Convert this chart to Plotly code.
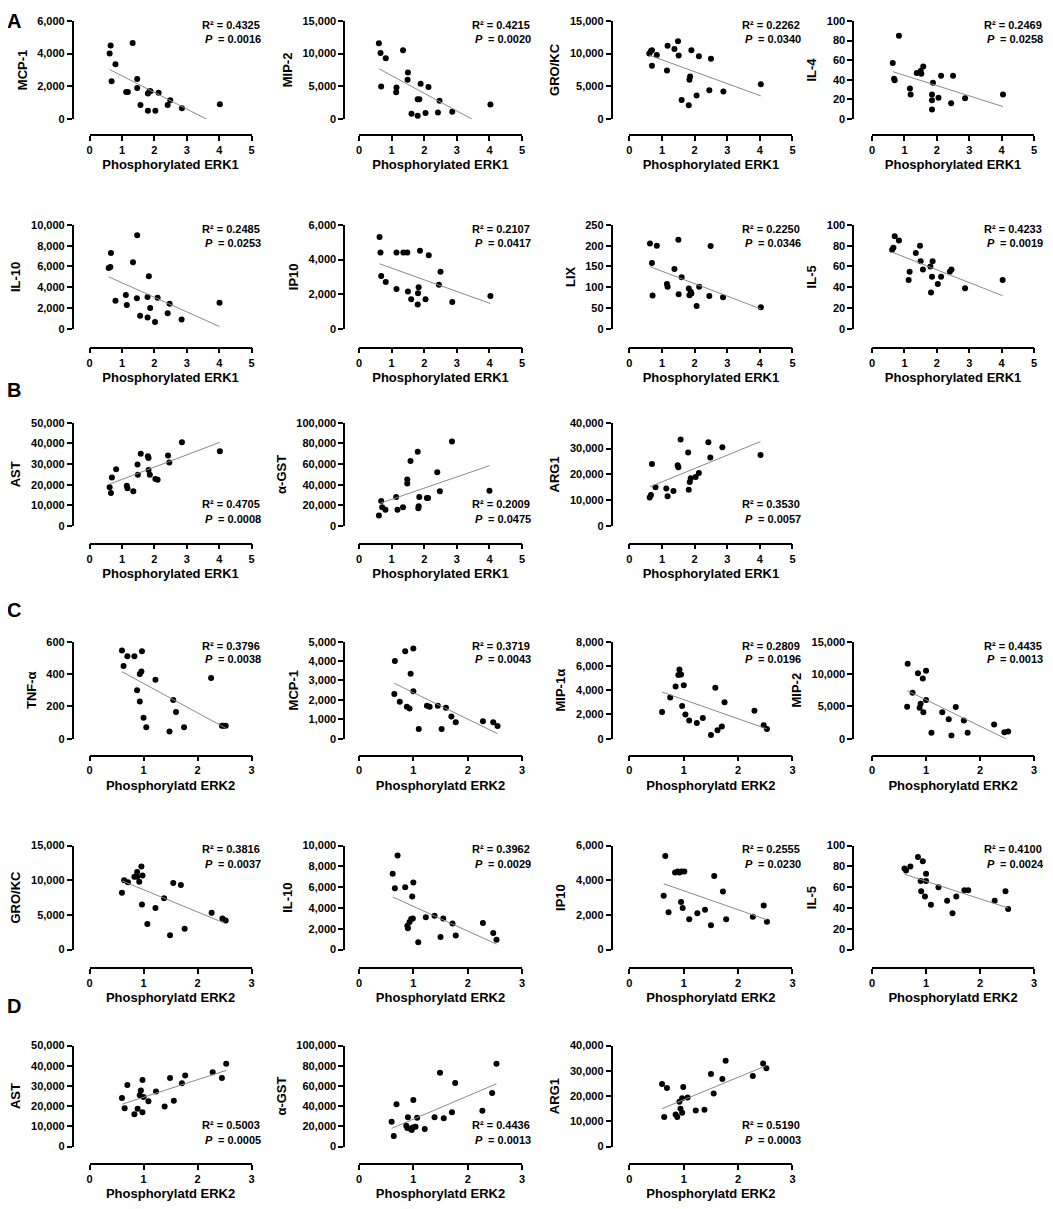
import numpy as np
import plotly.graph_objects as go

W, H = 1053, 1209
OFF = 8  # page body margin, the figure is shrunk and shifted to fit the window
FW, FH = W - OFF, H - OFF
FONT = "Liberation Sans, Arial, sans-serif"

# ---- A: phosphorylated ERK1 vs cytokines ----
mcp1_erk1_x = [0.62, 0.65, 0.68, 0.80, 1.13, 1.18, 1.33, 1.47, 1.47, 1.57, 1.80, 1.85, 1.88, 1.80, 2.03, 2.13, 2.41, 2.49, 2.85, 4.02]
mcp1_erk1_y = [4000, 4500, 2300, 3350, 1650, 1650, 4650, 2450, 1900, 850, 1550, 1700, 1700, 500, 500, 1600, 850, 1150, 650, 900]

mip2_erk1_x = [0.61, 0.66, 0.82, 0.68, 1.15, 1.14, 1.35, 1.50, 1.49, 1.61, 1.80, 1.80, 1.85, 1.89, 2.04, 2.13, 2.42, 2.47, 2.86, 4.03]
mip2_erk1_y = [11600, 10100, 9300, 4950, 4800, 4100, 10500, 7100, 6000, 800, 500, 3000, 3000, 5400, 900, 4900, 1000, 2800, 1100, 2200]

grokc_erk1_x = [0.61, 0.66, 0.69, 0.69, 0.84, 1.15, 1.17, 1.38, 1.49, 1.51, 1.60, 1.82, 1.84, 1.86, 1.90, 2.06, 2.13, 2.45, 2.50, 2.88, 4.03]
grokc_erk1_y = [10000, 10400, 10500, 8150, 9800, 7400, 11200, 10700, 11900, 9700, 2900, 2100, 6000, 6500, 10500, 3600, 9600, 4400, 9200, 4200, 5300]

il4_erk1_x = [0.64, 0.68, 0.70, 0.83, 1.17, 1.19, 1.38, 1.50, 1.52, 1.58, 1.85, 1.85, 1.85, 1.88, 2.05, 2.13, 2.44, 2.50, 2.87, 4.04]
il4_erk1_y = [57, 41, 39.5, 85, 31, 25, 47, 49, 46, 53.5, 25, 19, 9.6, 37, 21.5, 44, 16, 44, 21, 25]

il10_erk1_x = [0.59, 0.64, 0.66, 0.80, 1.12, 1.15, 1.34, 1.47, 1.46, 1.56, 1.79, 1.83, 1.79, 1.87, 2.02, 2.10, 2.41, 2.47, 2.84, 4.01]
il10_erk1_y = [5860, 5950, 7300, 2700, 3250, 2300, 6400, 9000, 2950, 1250, 3050, 5050, 1100, 2000, 650, 3000, 1500, 2400, 900, 2500]

ip10_erk1_x = [0.63, 0.66, 0.68, 0.82, 1.15, 1.15, 1.36, 1.48, 1.50, 1.60, 1.80, 1.83, 1.81, 1.87, 2.04, 2.14, 2.45, 2.50, 2.86, 4.03]
ip10_erk1_y = [5300, 4400, 3050, 2700, 4400, 2300, 4400, 4400, 2150, 1700, 1400, 2400, 2050, 4500, 1700, 4250, 2550, 3300, 1550, 1900]

lix_erk1_x = [0.63, 0.69, 0.71, 0.84, 1.15, 1.17, 1.38, 1.50, 1.51, 1.60, 1.82, 1.84, 1.88, 1.90, 2.06, 2.14, 2.45, 2.49, 2.87, 4.03]
lix_erk1_y = [205, 158, 80, 200, 108, 101, 144, 214, 83, 124, 97, 81, 89, 85, 55, 101, 79, 199, 76, 52]

il5_erk1_x = [0.62, 0.66, 0.70, 0.83, 1.13, 1.16, 1.35, 1.48, 1.50, 1.57, 1.80, 1.82, 1.85, 1.87, 2.03, 2.13, 2.40, 2.45, 2.87, 4.03]
il5_erk1_y = [76, 78, 89, 85, 47, 55, 73, 80, 65, 57, 60, 35, 50, 65, 43, 50, 55, 57, 39, 47]

# ---- B: phosphorylated ERK1 vs liver markers ----
ast_erk1_x = [0.62, 0.66, 0.69, 0.82, 1.15, 1.17, 1.35, 1.48, 1.49, 1.58, 1.80, 1.82, 1.82, 1.86, 2.03, 2.10, 2.42, 2.46, 2.85, 4.02]
ast_erk1_y = [18700, 16000, 23500, 27500, 19500, 18300, 16800, 29800, 24800, 35000, 33800, 33000, 27100, 24800, 22700, 22400, 34100, 30800, 40600, 36200]

agst_erk1_x = [0.61, 0.68, 0.71, 0.81, 1.14, 1.18, 1.35, 1.48, 1.48, 1.58, 1.80, 1.85, 1.82, 1.83, 2.08, 2.12, 2.40, 2.48, 2.85, 4.00]
agst_erk1_y = [10000, 24000, 18000, 15500, 28000, 15500, 18000, 45000, 41000, 63000, 72000, 28000, 17000, 19000, 27000, 27000, 52000, 33600, 82000, 34000]

arg1_erk1_x = [0.62, 0.66, 0.69, 0.80, 1.13, 1.17, 1.35, 1.48, 1.50, 1.57, 1.80, 1.82, 1.85, 1.88, 2.03, 2.13, 2.42, 2.48, 2.85, 4.02]
arg1_erk1_y = [11000, 12000, 24000, 15000, 14500, 11500, 13500, 23500, 22800, 33500, 28500, 14000, 17000, 18500, 19000, 20500, 32500, 26500, 30500, 27500]

# ---- C: phosphorylated ERK2 vs cytokines ----
tnfa_erk2_x = [0.60, 0.63, 0.70, 0.83, 0.97, 0.93, 0.96, 1.22, 0.88, 0.93, 1.00, 1.05, 1.48, 1.75, 1.55, 1.60, 2.25, 2.45, 2.48, 2.52]
tnfa_erk2_y = [545, 450, 510, 510, 540, 400, 415, 365, 300, 230, 130, 70, 45, 70, 240, 165, 375, 80, 80, 80]

mcp1_erk2_x = [0.66, 0.85, 1.00, 0.95, 1.00, 0.65, 0.75, 0.88, 0.93, 1.10, 1.30, 1.45, 1.60, 1.52, 1.78, 1.70, 2.28, 2.47, 2.55, 1.25]
mcp1_erk2_y = [4000, 4500, 4650, 3350, 2450, 2300, 1900, 1650, 1550, 500, 1650, 1700, 1600, 500, 850, 1150, 900, 850, 650, 1700]

mip1a_erk2_x = [0.60, 0.75, 0.85, 0.90, 0.92, 0.95, 1.00, 0.97, 1.03, 1.10, 1.24, 1.35, 1.50, 1.58, 1.62, 1.75, 1.70, 2.30, 2.47, 2.53]
mip1a_erk2_y = [2200, 3400, 4300, 5250, 5700, 5300, 4400, 2700, 2000, 1500, 1300, 1700, 300, 4200, 700, 3000, 1000, 2300, 1100, 800]

mip2_erk2_x = [0.66, 0.85, 1.00, 0.94, 0.65, 0.75, 0.88, 0.90, 1.00, 0.95, 1.10, 1.30, 1.42, 1.47, 1.55, 1.70, 1.77, 2.26, 2.45, 2.52]
mip2_erk2_y = [11600, 10100, 10500, 9300, 4950, 7100, 4800, 5400, 6000, 4100, 900, 4100, 3000, 500, 4900, 2800, 900, 2200, 1000, 1100]

grokc_erk2_x = [0.60, 0.64, 0.71, 0.83, 0.88, 0.88, 0.92, 0.96, 0.98, 0.97, 1.07, 1.22, 1.38, 1.49, 1.55, 1.69, 1.76, 2.26, 2.46, 2.52]
grokc_erk2_y = [8200, 10000, 9700, 10500, 11200, 10500, 9800, 12000, 10700, 6500, 3700, 6000, 7400, 2050, 9600, 9300, 3000, 5300, 4500, 4200]

il10_erk2_x = [0.62, 0.71, 0.66, 0.85, 1.00, 0.98, 0.89, 0.90, 0.93, 0.96, 0.99, 1.09, 1.23, 1.39, 1.50, 1.55, 1.72, 1.78, 2.28, 2.47, 2.53]
il10_erk2_y = [7300, 9050, 5900, 6000, 6450, 5100, 2300, 2050, 2650, 2950, 3000, 700, 3100, 3250, 1200, 3000, 2500, 1350, 2550, 1600, 950]

ip10_erk2_x = [0.63, 0.66, 0.72, 0.84, 0.89, 0.92, 0.96, 1.01, 0.95, 0.98, 1.10, 1.25, 1.39, 1.50, 1.56, 1.72, 1.78, 2.27, 2.47, 2.53]
ip10_erk2_y = [3100, 5400, 2150, 4450, 4500, 4450, 4500, 4500, 2750, 2400, 1750, 2100, 2300, 1400, 4250, 3350, 1750, 1900, 2550, 1600]

il5_erk2_x = [0.60, 0.63, 0.71, 0.85, 0.94, 1.00, 0.90, 1.00, 0.91, 0.98, 1.09, 1.23, 1.39, 1.49, 1.56, 1.71, 1.78, 2.27, 2.47, 2.52]
il5_erk2_y = [78, 76, 80, 89, 85, 73, 66, 66, 56, 51, 43, 60, 47, 35, 51, 57, 57, 47, 56, 39]

# ---- D: phosphorylated ERK2 vs liver markers ----
ast_erk2_x = [0.60, 0.65, 0.70, 0.83, 0.89, 0.93, 0.95, 0.98, 1.00, 0.98, 1.09, 1.23, 1.39, 1.49, 1.56, 1.71, 1.77, 2.28, 2.45, 2.53]
ast_erk2_y = [24000, 19000, 30500, 16000, 18700, 25400, 27800, 33000, 24600, 17000, 22500, 27300, 19800, 34000, 22700, 31400, 35200, 36800, 34000, 41000]

agst_erk2_x = [0.60, 0.64, 0.69, 0.87, 0.90, 0.89, 0.95, 0.99, 0.97, 1.00, 1.04, 1.07, 1.21, 1.39, 1.49, 1.56, 1.71, 1.77, 2.27, 2.45, 2.53]
agst_erk2_y = [24500, 10500, 42000, 20600, 29000, 18400, 17500, 19000, 16500, 46000, 19700, 28600, 17500, 29000, 73000, 28000, 34000, 63000, 35500, 53000, 82000]

arg1_erk2_x = [0.60, 0.64, 0.69, 0.85, 0.88, 0.92, 0.94, 0.97, 0.97, 0.99, 1.07, 1.22, 1.38, 1.50, 1.55, 1.71, 1.77, 2.27, 2.46, 2.52]
arg1_erk2_y = [24800, 11700, 23200, 12700, 11700, 17800, 15000, 13400, 19100, 23600, 19400, 14300, 14600, 28700, 21000, 26800, 34000, 28000, 32900, 31000]

# row: (y of top tick, y of zero, y of x-axis line, ERK, stats at top?) in page pixels
rows = {
    "A1": (15, 114, 130, 1, True),
    "A2": (221, 326, 345, 1, True),
    "B": (421, 525, 543, 1, False),
    "C1": (642, 740, 757, 2, True),
    "C2": (848, 953, 972, 2, True),
    "D": (1050, 1152, 1170, 2, False),
}
col_yaxis = [70, 343, 612, 855]
col_xdom = [(87, 250), (358, 522), (630, 794), (874, 1037)]


def px(v):
    return (v - OFF) / FW


def py(v):
    return 1 - (v - OFF) / FH


panels = [
    ("A1", 0, "MCP-1", mcp1_erk1_x, mcp1_erk1_y, 6000, 2000, "0.4325", "0.0016"),
    ("A1", 1, "MIP-2", mip2_erk1_x, mip2_erk1_y, 15000, 5000, "0.4215", "0.0020"),
    ("A1", 2, "GRO/KC", grokc_erk1_x, grokc_erk1_y, 15000, 5000, "0.2262", "0.0340"),
    ("A1", 3, "IL-4", il4_erk1_x, il4_erk1_y, 100, 20, "0.2469", "0.0258"),
    ("A2", 0, "IL-10", il10_erk1_x, il10_erk1_y, 10000, 2000, "0.2485", "0.0253"),
    ("A2", 1, "IP10", ip10_erk1_x, ip10_erk1_y, 6000, 2000, "0.2107", "0.0417"),
    ("A2", 2, "LIX", lix_erk1_x, lix_erk1_y, 250, 50, "0.2250", "0.0346"),
    ("A2", 3, "IL-5", il5_erk1_x, il5_erk1_y, 100, 20, "0.4233", "0.0019"),
    ("B", 0, "AST", ast_erk1_x, ast_erk1_y, 50000, 10000, "0.4705", "0.0008"),
    ("B", 1, "α-GST", agst_erk1_x, agst_erk1_y, 100000, 20000, "0.2009", "0.0475"),
    ("B", 2, "ARG1", arg1_erk1_x, arg1_erk1_y, 40000, 10000, "0.3530", "0.0057"),
    ("C1", 0, "TNF-α", tnfa_erk2_x, tnfa_erk2_y, 600, 200, "0.3796", "0.0038"),
    ("C1", 1, "MCP-1", mcp1_erk2_x, mcp1_erk2_y, 5000, 1000, "0.3719", "0.0043"),
    ("C1", 2, "MIP-1α", mip1a_erk2_x, mip1a_erk2_y, 8000, 2000, "0.2809", "0.0196"),
    ("C1", 3, "MIP-2", mip2_erk2_x, mip2_erk2_y, 15000, 5000, "0.4435", "0.0013"),
    ("C2", 0, "GRO/KC", grokc_erk2_x, grokc_erk2_y, 15000, 5000, "0.3816", "0.0037"),
    ("C2", 1, "IL-10", il10_erk2_x, il10_erk2_y, 10000, 2000, "0.3962", "0.0029"),
    ("C2", 2, "IP10", ip10_erk2_x, ip10_erk2_y, 6000, 2000, "0.2555", "0.0230"),
    ("C2", 3, "IL-5", il5_erk2_x, il5_erk2_y, 100, 20, "0.4100", "0.0024"),
    ("D", 0, "AST", ast_erk2_x, ast_erk2_y, 50000, 10000, "0.5003", "0.0005"),
    ("D", 1, "α-GST", agst_erk2_x, agst_erk2_y, 100000, 20000, "0.4436", "0.0013"),
    ("D", 2, "ARG1", arg1_erk2_x, arg1_erk2_y, 40000, 10000, "0.5190", "0.0003"),
]

xtitles = {1: "Phosphorylated ERK1", 2: "Phosphorylatd ERK2"}

tickfont = dict(family=FONT, size=11, color="black", weight="bold")
titlefont = dict(family=FONT, size=13, color="black", weight="bold")
statfont = dict(family=FONT, size=11, color="black", weight="bold")
axis_style = dict(showline=True, linecolor="black", linewidth=1.5, ticks="outside",
                  ticklen=5, tickwidth=1.5, tickcolor="black", showgrid=False,
                  zeroline=False, tickfont=tickfont, fixedrange=True)

fig = go.Figure()
layout = {}
annotations = []

for i, (row, col, ylab, xs, ys, ymax, dtick, r2, p) in enumerate(panels, start=1):
    ytop, y0, xline, erk, stats_top = rows[row]
    sfx = "" if i == 1 else str(i)
    xa, ya = "x" + sfx, "y" + sfx

    fig.add_trace(go.Scatter(x=xs, y=ys, mode="markers", xaxis=xa, yaxis=ya,
                             marker=dict(color="black", size=6), showlegend=False))
    slope, icpt = np.polyfit(xs, ys, 1)
    lx = [min(xs), max(xs)]
    fig.add_trace(go.Scatter(x=lx, y=[slope * v + icpt for v in lx], mode="lines",
                             xaxis=xa, yaxis=ya, line=dict(color="#8a8a8a", width=1),
                             showlegend=False))

    xd = col_xdom[col]
    layout["xaxis" + sfx] = dict(axis_style, domain=[px(xd[0]), px(xd[1])], anchor="free",
                                 position=py(xline), range=[0, 5 if erk == 1 else 3], dtick=1,
                                 title=dict(text=xtitles[erk], font=titlefont, standoff=4))
    layout["yaxis" + sfx] = dict(axis_style, domain=[py(y0), py(ytop)], anchor="free",
                                 position=px(col_yaxis[col]), range=[0, ymax], dtick=dtick,
                                 tickformat=",", title=dict(text=ylab, font=titlefont, standoff=6))

    # stats: "R² = ..." line, then italic "P" and "= ..." side by side
    if stats_top:
        y_r2, y_p, anc = 1.03, 0.89, "top"
    else:
        y_r2, y_p, anc = 0.14, 0.0, "bottom"
    common = dict(xref=xa + " domain", yref=ya + " domain", x=0.87, yanchor=anc,
                  showarrow=False, borderpad=0)
    annotations.append(dict(common, text="R² = " + r2, xanchor="center", y=y_r2, font=statfont))
    annotations.append(dict(common, text="P", xanchor="right", xshift=-17, y=y_p,
                            font=dict(statfont, style="italic")))
    annotations.append(dict(common, text="= " + p, xanchor="left", xshift=-14, y=y_p,
                            font=statfont))

for letter, lx_, ly_ in [("A", 11, 15), ("B", 11, 388), ("C", 11, 610), ("D", 11, 1010)]:
    annotations.append(dict(text=letter, xref="paper", yref="paper", x=px(lx_), y=py(ly_),
                            xanchor="center", yanchor="middle", showarrow=False,
                            font=dict(family=FONT, size=20, color="black", weight="bold")))

fig.update_layout(**layout)
fig.update_layout(width=FW, height=FH, margin=dict(l=0, r=0, t=0, b=0),
                  plot_bgcolor="white", paper_bgcolor="white", showlegend=False,
                  annotations=annotations)

fig.write_html("out.html")
